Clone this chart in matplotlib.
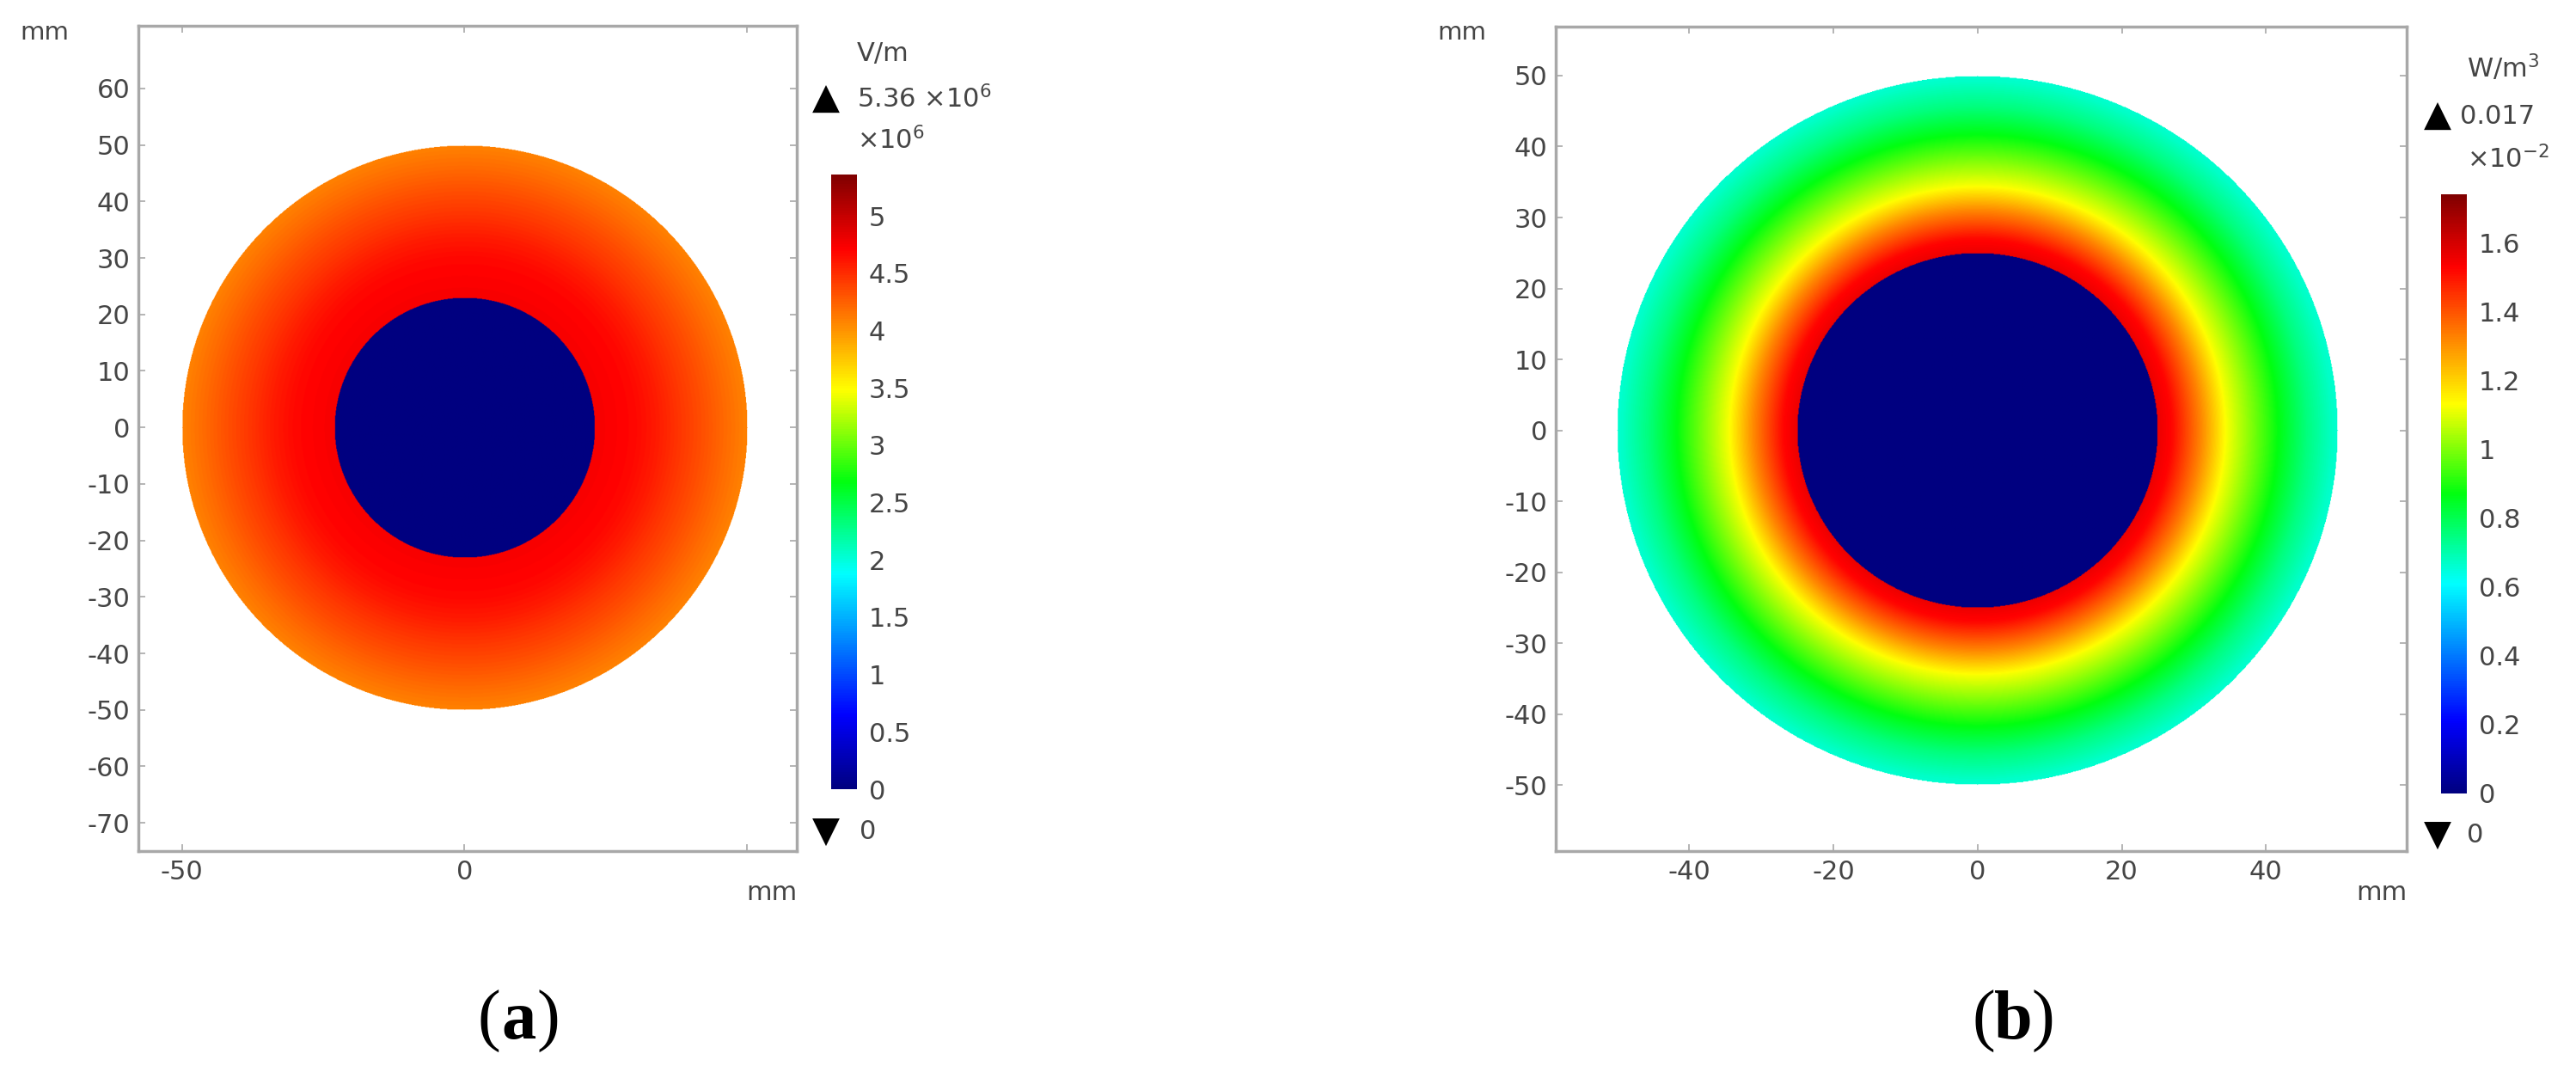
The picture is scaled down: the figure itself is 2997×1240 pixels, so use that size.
import matplotlib
matplotlib.use("Agg")
import matplotlib.pyplot as plt
import numpy as np
from matplotlib.colors import LinearSegmentedColormap

W, H, DPI = 2997, 1240, 100

# (a) electric field norm along the radius, x10^6 V/m
E_RADIUS = [23, 26, 30, 34, 38, 42, 46, 50]
E_VALUE = [4.75, 4.72, 4.68, 4.58, 4.45, 4.33, 4.2, 4.08]
E_INNER, E_OUTER = 23, 50
E_MAX = 5.36
E_TICKS = [0, 0.5, 1, 1.5, 2, 2.5, 3, 3.5, 4, 4.5, 5]
E_XTICKS = [-50, 0, 50]
E_YTICKS = [60, 50, 40, 30, 20, 10, 0, -10, -20, -30, -40, -50, -60, -70]

# (b) power loss density along the radius, x10^-2 W/m^3
Q_RADIUS = [25, 27, 31, 34.6, 38, 41.7, 45.7, 49.3, 50]
Q_VALUE = [1.56, 1.52, 1.32, 1.12, 1.0, 0.87, 0.75, 0.67, 0.66]
Q_INNER, Q_OUTER = 25, 50
Q_MAX = 1.74
Q_TICKS = [0, 0.2, 0.4, 0.6, 0.8, 1, 1.2, 1.4, 1.6]
Q_XTICKS = [-40, -20, 0, 20, 40]
Q_YTICKS = [50, 40, 30, 20, 10, 0, -10, -20, -30, -40, -50]

GREY = "#454545"
FRAME = "#a8a8a8"

# COMSOL-like rainbow
RAINBOW = LinearSegmentedColormap.from_list(
    "comsol_rainbow",
    [(0.0, "#000080"), (0.12, "#0000ff"), (0.35, "#00ffff"), (0.5, "#00ff10"),
     (0.65, "#ffff00"), (0.88, "#ff0000"), (1.0, "#800000")])
RAINBOW.set_bad((1, 1, 1, 0))


def px(x, y):
    """Pixel position (from top-left) -> figure fraction."""
    return x / W, 1 - y / H


def box(x0, y0, x1, y1):
    return [x0 / W, 1 - y1 / H, (x1 - x0) / W, (y1 - y0) / H]


def radial_field(radius, value, r_in, r_out):
    xs = np.linspace(-62, 62, 1241)
    xx, yy = np.meshgrid(xs, xs)
    r = np.hypot(xx, yy)
    f = np.interp(r, radius, value)
    f[r < r_in] = 0.0
    return np.ma.masked_where(r > r_out, f)


def draw_panel(fig, ax_box, cax_box, field, vmax, xlim, ylim, xticks, yticks,
               cticks):
    ax = fig.add_axes(ax_box)
    im = ax.imshow(field, extent=(-62, 62, -62, 62), origin="lower", cmap=RAINBOW,
                   vmin=0, vmax=vmax, interpolation="bilinear", aspect="auto")
    ax.set_xlim(*xlim)
    ax.set_ylim(*ylim)
    ax.set_xticks(xticks)
    ax.set_xticklabels([f"{t:g}" if t < xlim[1] - 10 else "" for t in xticks])
    ax.set_yticks(yticks)
    ax.set_yticklabels([f"{t:g}" for t in yticks])
    ax.tick_params(direction="in", length=6, width=1.2, color=FRAME,
                   top=True, right=True, labelsize=22, labelcolor=GREY, pad=7)
    for s in ax.spines.values():
        s.set_color(FRAME)
        s.set_linewidth(2.5)
    ax.text(1.0, -0.035, "mm", transform=ax.transAxes, ha="right", va="top",
            fontsize=22, color=GREY)

    cax = fig.add_axes(cax_box)
    cb = fig.colorbar(im, cax=cax, ticks=cticks)
    cb.outline.set_visible(False)
    cb.set_ticklabels([f"{t:g}" for t in cticks])
    cax.tick_params(length=0, labelsize=22, labelcolor=GREY, pad=10)
    return ax


fig = plt.figure(figsize=(W / DPI, H / DPI), dpi=DPI)
fig.patch.set_facecolor("white")

# (a)
draw_panel(fig, box(161, 30, 927, 990), box(967, 203, 997, 918),
           radial_field(E_RADIUS, E_VALUE, E_INNER, E_OUTER), E_MAX,
           (-57.7, 58.8), (-75.0, 71.1), E_XTICKS, E_YTICKS, E_TICKS)
fig.text(*px(23, 38), "mm", fontsize=21, color=GREY, ha="left", va="center")
fig.text(*px(997, 63), "V/m", fontsize=22, color=GREY, ha="left", va="center")
fig.text(*px(961, 115), "▲", fontsize=30, color="black", ha="center", va="center")
fig.text(*px(997, 115), r"5.36 $\times10^{6}$", fontsize=22, color=GREY,
         ha="left", va="center")
fig.text(*px(997, 163), r"$\times10^{6}$", fontsize=22, color=GREY,
         ha="left", va="center")
fig.text(*px(961, 968), "▼", fontsize=30, color="black", ha="center", va="center")
fig.text(*px(1000, 968), "0", fontsize=22, color=GREY, ha="left", va="center")

# (b)
draw_panel(fig, box(1810, 31, 2800, 990), box(2840, 226, 2870, 923),
           radial_field(Q_RADIUS, Q_VALUE, Q_INNER, Q_OUTER), Q_MAX,
           (-58.5, 59.5), (-59.3, 56.9), Q_XTICKS, Q_YTICKS, Q_TICKS)
fig.text(*px(1672, 38), "mm", fontsize=21, color=GREY, ha="left", va="center")
fig.text(*px(2870, 79), r"W/m$^{3}$", fontsize=22, color=GREY, ha="left", va="center")
fig.text(*px(2836, 135), "▲", fontsize=30, color="black", ha="center", va="center")
fig.text(*px(2862, 135), "0.017", fontsize=22, color=GREY, ha="left", va="center")
fig.text(*px(2870, 185), r"$\times10^{-2}$", fontsize=22, color=GREY,
         ha="left", va="center")
fig.text(*px(2836, 972), "▼", fontsize=30, color="black", ha="center", va="center")
fig.text(*px(2870, 972), "0", fontsize=22, color=GREY, ha="left", va="center")

# sub-figure labels: plain parentheses, bold letter
for x, letter in [(603, "a"), (2342, "b")]:
    kw = dict(fontsize=58, va="baseline", family="Liberation Serif")
    fig.text(*px(x - 21, 1208), "(", ha="right", **kw)
    fig.text(*px(x, 1208), letter, ha="center", weight="bold", **kw)
    fig.text(*px(x + 21, 1208), ")", ha="left", **kw)

fig.savefig("out.png", dpi=DPI, facecolor="white")
